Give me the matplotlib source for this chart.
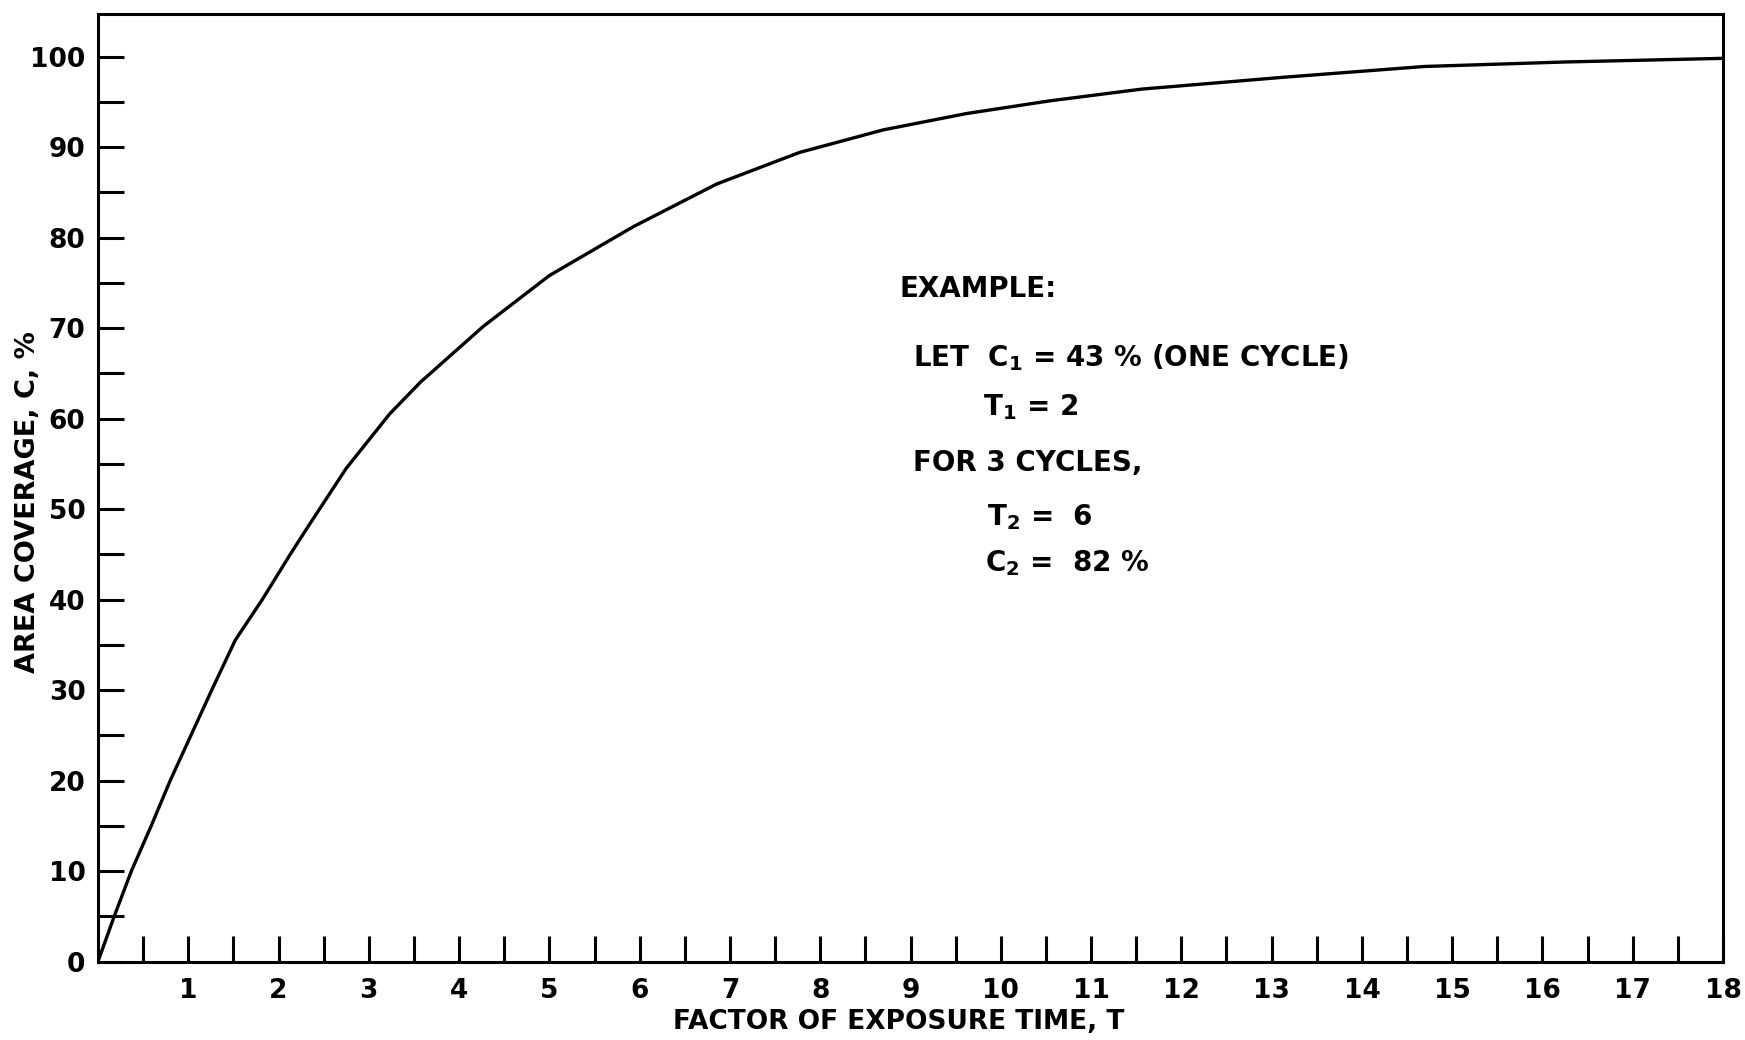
import matplotlib
matplotlib.use('Agg')
import matplotlib.pyplot as plt
from matplotlib.ticker import MultipleLocator, FixedLocator

# curve: factor of exposure time T vs area coverage C (%)
exposure_t = [0, 0.18, 0.37, 0.59, 0.80, 1.03, 1.26, 1.52, 1.82, 2.13, 2.31, 2.75,
              3.23, 3.57, 4.27, 5.0, 5.93, 6.85, 7.77, 8.70, 9.62, 10.54, 11.56,
              13.12, 14.69, 16.26, 18.0]
coverage = [0, 5, 10, 15, 20, 25, 30, 35.5, 40, 45, 47.8, 54.5,
            60.5, 64, 70.2, 75.8, 81.2, 85.9, 89.4, 91.9, 93.7, 95.1, 96.4,
            97.7, 98.9, 99.4, 99.8]

x_major = list(range(1, 19))
x_minor = [i + 0.5 for i in range(18)]
y_major = list(range(0, 101, 10))

example_lines = [
    (8.88, 74.3, 'EXAMPLE:'),
    (9.03, 66.7, r'LET  C$_{\mathregular{1}}$ = 43 % (ONE CYCLE)'),
    (9.80, 61.3, r'T$_{\mathregular{1}}$ = 2'),
    (9.03, 55.1, 'FOR 3 CYCLES,'),
    (9.85, 49.1, r'T$_{\mathregular{2}}$ =  6'),
    (9.82, 44.0, r'C$_{\mathregular{2}}$ =  82 %'),
]

plt.rcParams['font.family'] = 'DejaVu Sans'
plt.rcParams['font.weight'] = 'bold'
plt.rcParams['mathtext.default'] = 'regular'
plt.rcParams['mathtext.fontset'] = 'custom'
plt.rcParams['mathtext.rm'] = 'DejaVu Sans:bold'

fig = plt.figure(figsize=(17.45, 10.4), dpi=100)
ax = fig.add_axes([98 / 1745, 1 - 961.5 / 1040, 1625 / 1745, 947.5 / 1040])

ax.plot(exposure_t, coverage, color='black', lw=2.4, solid_capstyle='round',
        solid_joinstyle='round')

ax.set_xlim(0, 18)
ax.set_ylim(0, 104.7)
for sp in ax.spines.values():
    sp.set_linewidth(2.2)

ax.xaxis.set_major_locator(FixedLocator(x_major))
ax.xaxis.set_minor_locator(FixedLocator(x_minor))
ax.yaxis.set_major_locator(FixedLocator(y_major))
ax.yaxis.set_minor_locator(MultipleLocator(5))
ax.tick_params(which='both', direction='in', length=19, width=2.2, top=False, right=False)
ax.tick_params(axis='x', which='major', pad=12, labelsize=19)
ax.tick_params(axis='y', which='major', pad=9, labelsize=19)

ax.text(-0.043, 0.485, 'AREA COVERAGE, C, %', transform=ax.transAxes, rotation=90,
        ha='center', va='center', fontsize=19.5, fontweight='bold')
ax.text(0.493, -0.064, 'FACTOR OF EXPOSURE TIME, T', transform=ax.transAxes,
        ha='center', va='center', fontsize=19, fontweight='bold')

for x, y, s in example_lines:
    ax.text(x, y, s, ha='left', va='center', fontsize=20, fontweight='bold')

fig.savefig('out.png', dpi=100)
